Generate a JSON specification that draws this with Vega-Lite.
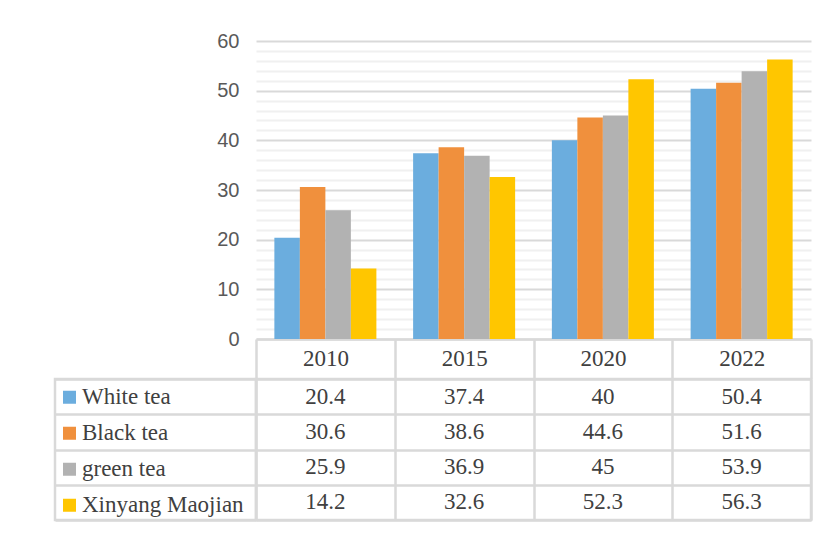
{
  "$schema": "https://vega.github.io/schema/vega-lite/v6.json",
  "background": "white",
  "padding": {"left": 53, "top": 31, "right": 5, "bottom": 5},
  "datasets": {
    "tea": [
      {"year": "2010", "series": "White tea", "value": 20.4},
      {"year": "2015", "series": "White tea", "value": 37.4},
      {"year": "2020", "series": "White tea", "value": 40},
      {"year": "2022", "series": "White tea", "value": 50.4},
      {"year": "2010", "series": "Black tea", "value": 30.6},
      {"year": "2015", "series": "Black tea", "value": 38.6},
      {"year": "2020", "series": "Black tea", "value": 44.6},
      {"year": "2022", "series": "Black tea", "value": 51.6},
      {"year": "2010", "series": "green tea", "value": 25.9},
      {"year": "2015", "series": "green tea", "value": 36.9},
      {"year": "2020", "series": "green tea", "value": 45},
      {"year": "2022", "series": "green tea", "value": 53.9},
      {"year": "2010", "series": "Xinyang Maojian", "value": 14.2},
      {"year": "2015", "series": "Xinyang Maojian", "value": 32.6},
      {"year": "2020", "series": "Xinyang Maojian", "value": 52.3},
      {"year": "2022", "series": "Xinyang Maojian", "value": 56.3}
    ]
  },
  "columns": 2,
  "spacing": {"row": 40, "column": 0},
  "bounds": "flush",
  "align": "each",
  "config": {"view": {"stroke": null}},
  "concat": [
    {
      "width": 201,
      "height": 298,
      "data": {"values": [{"a": 1}]},
      "mark": {"type": "text"},
      "encoding": {"text": {"value": ""}}
    },
    {
      "width": 555,
      "height": 298,
      "data": {"name": "tea"},
      "layer": [
        {
          "mark": {"type": "bar"},
          "encoding": {
            "x": {
              "field": "year",
              "type": "nominal",
              "scale": {"type": "band", "paddingInner": 0, "paddingOuter": 0},
              "axis": {
                "title": null,
                "labelAngle": 0,
                "labelFont": "Liberation Serif",
                "labelFontSize": 23,
                "labelColor": "#404040",
                "labelBaseline": "middle",
                "labelPadding": -21,
                "ticks": true,
                "tickBand": "extent",
                "tickSize": 40,
                "tickColor": "#d9d9d9",
                "tickWidth": 2.5,
                "domain": true,
                "domainColor": "#d9d9d9",
                "domainWidth": 2.5,
                "grid": false
              }
            },
            "xOffset": {
              "field": "series",
              "type": "nominal",
              "sort": ["White tea", "Black tea", "green tea", "Xinyang Maojian"],
              "scale": {"paddingInner": 0, "paddingOuter": 0.72}
            },
            "y": {
              "field": "value",
              "type": "quantitative",
              "scale": {"domain": [0, 60], "nice": false},
              "axis": {
                "orient": "left",
                "values": [0, 10, 20, 30, 40, 50, 60],
                "grid": true,
                "gridColor": "#d9d9d9",
                "gridWidth": 2,
                "ticks": false,
                "domain": false,
                "labelPadding": 17,
                "labelFont": "Liberation Sans",
                "labelFontSize": 20,
                "labelColor": "#595959",
                "title": null
              }
            },
            "color": {
              "field": "series",
              "type": "nominal",
              "sort": ["White tea", "Black tea", "green tea", "Xinyang Maojian"],
              "scale": {
                "domain": ["White tea", "Black tea", "green tea", "Xinyang Maojian"],
                "range": ["#6badde", "#f0903d", "#b2b2b2", "#ffc600"]
              },
              "legend": {
                "title": null,
                "orient": "none",
                "legendX": 3,
                "legendY": 338.5,
                "direction": "vertical",
                "symbolType": "square",
                "symbolSize": 169,
                "symbolStrokeWidth": 0,
                "labelFont": "Liberation Serif",
                "labelFontSize": 23,
                "labelColor": "#404040",
                "labelOffset": 1,
                "labelLimit": 0,
                "rowPadding": 0,
                "clipHeight": 35.4,
                "padding": 0
              }
            }
          }
        },
        {
          "mark": {"type": "rule", "opacity": 0},
          "encoding": {
            "y": {
              "field": "value",
              "type": "quantitative",
              "scale": {"domain": [0, 60], "nice": false},
              "axis": {
                "orient": "right",
                "values": [2, 4, 6, 8, 12, 14, 16, 18, 22, 24, 26, 28, 32, 34, 36, 38, 42, 44, 46, 48, 52, 54, 56, 58],
                "grid": true,
                "gridColor": "#f0f0f0",
                "gridWidth": 2,
                "labels": false,
                "ticks": false,
                "domain": false,
                "title": null
              }
            }
          }
        }
      ],
      "resolve": {"axis": {"y": "independent"}}
    },
    {
      "width": 201,
      "height": 141,
      "data": {"name": "tea"},
      "view": {"stroke": "#d9d9d9", "strokeWidth": 2.5},
      "mark": {"type": "text"},
      "encoding": {
        "y": {
          "field": "series",
          "type": "nominal",
          "sort": ["White tea", "Black tea", "green tea", "Xinyang Maojian"],
          "scale": {"type": "band", "paddingInner": 0, "paddingOuter": 0},
          "axis": {
            "grid": true,
            "tickBand": "extent",
            "gridColor": "#d9d9d9",
            "gridWidth": 2.5,
            "labels": false,
            "ticks": false,
            "domain": false,
            "title": null
          }
        },
        "text": {"value": ""}
      }
    },
    {
      "width": 555,
      "height": 141,
      "data": {"name": "tea"},
      "view": {"stroke": "#d9d9d9", "strokeWidth": 2.5},
      "mark": {"type": "text", "font": "Liberation Serif", "fontSize": 23, "color": "#404040", "align": "center", "baseline": "middle"},
      "encoding": {
        "x": {
          "field": "year",
          "type": "nominal",
          "scale": {"type": "band", "paddingInner": 0, "paddingOuter": 0},
          "axis": {
            "grid": true,
            "tickBand": "extent",
            "gridColor": "#d9d9d9",
            "gridWidth": 2.5,
            "labels": false,
            "ticks": false,
            "domain": false,
            "title": null
          }
        },
        "y": {
          "field": "series",
          "type": "nominal",
          "sort": ["White tea", "Black tea", "green tea", "Xinyang Maojian"],
          "scale": {"type": "band", "paddingInner": 0, "paddingOuter": 0},
          "axis": {
            "grid": true,
            "tickBand": "extent",
            "gridColor": "#d9d9d9",
            "gridWidth": 2.5,
            "labels": false,
            "ticks": false,
            "domain": false,
            "title": null
          }
        },
        "text": {"field": "value", "type": "nominal"}
      }
    }
  ]
}
